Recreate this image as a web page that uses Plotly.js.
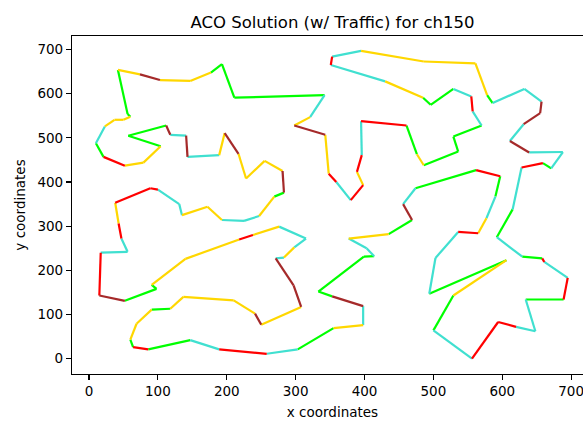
<!DOCTYPE html>
<html>
<head>
<meta charset="utf-8">
<script src="https://cdn.plot.ly/plotly-3.0.1.min.js"></script>
<style>
html, body { margin: 0; padding: 0; overflow: hidden; background: #fff; }
#chart { width: 610px; height: 421px; }
</style>
</head>
<body>
<div id="chart"></div>
<script>
// City coordinates in tour order (closed tour)
const tourX = [42,74,103,147,177,193,211,342,321,298,
  343,348,359,380,398,389,396,395,461,476,
  486,536,529,570,557,555,529,496,485,430,
  351,353,395,486,561,578,586,632,657,655,
  631,611,639,688,671,659,628,615,592,629,
  658,661,695,689,634,648,620,594,556,500,
  529,606,494,503,536,565,577,590,597,562,
  474,456,469,435,377,403,414,399,333,353,
  398,398,355,303,258,189,147,86,64,60,
  69,91,118,137,210,241,250,308,297,271,
  283,298,315,276,238,218,140,91,98,52,
  15,17,56,47,43,38,89,100,131,135,
  172,193,225,247,269,283,281,255,228,217,
  197,189,143,141,118,112,57,104,79,52,
  21,10,23,37,50,60,56];
const tourY = [654,644,631,629,648,667,591,597,547,528,
  507,419,400,359,393,423,461,538,528,463,
  438,469,503,528,560,594,611,575,591,628,
  665,684,697,673,669,597,579,611,582,556,
  531,493,467,468,431,443,433,338,275,231,
  227,219,183,134,134,62,72,83,0,64,
  143,223,147,228,287,284,318,367,413,427,
  386,350,314,282,272,250,232,231,152,141,
  119,76,69,21,11,21,42,21,26,43,
  79,111,113,140,132,102,77,117,166,227,
  229,252,272,299,280,270,226,167,158,131,
  143,240,242,272,306,353,386,383,350,325,
  344,314,312,323,367,376,425,448,408,464,
  511,461,457,505,507,528,505,481,444,437,
  457,488,526,541,541,548,554];
// Traffic level of each edge i -> i+1 (last edge closes the tour)
const segLevel = ['Y','B','Y','Y','G','G','G','T','Y','B',
  'Y','R','T','R','Y','R','T','R','G','Y',
  'G','G','G','T','R','T','G','G','Y','T',
  'R','T','Y','Y','Y','G','T','T','B','B',
  'T','B','T','T','G','R','T','G','T','G',
  'R','T','R','G','T','T','R','R','T','G',
  'Y','G','T','T','R','Y','T','G','R','G',
  'T','B','G','Y','T','T','G','G','G','B',
  'T','Y','G','T','R','T','G','R','G','Y',
  'Y','G','Y','Y','Y','B','Y','B','B','T',
  'Y','T','T','Y','R','Y','Y','G','G','B',
  'R','T','T','R','Y','R','R','T','T','Y',
  'Y','T','T','Y','G','B','Y','Y','Y','B',
  'Y','T','B','T','B','G','G','Y','Y','R',
  'G','T','Y','Y','Y','G','G'];

const levelColor = {G: '#00ff00', T: '#40e0d0', Y: '#ffd700', R: '#ff0000', B: '#a52a2a'};
const levels = ['G', 'T', 'Y', 'R', 'B'];

const n = tourX.length;
const traces = levels.map(function (lv) {
  const xs = [], ys = [];
  for (let i = 0; i < n; i++) {
    if (segLevel[i] !== lv) continue;
    const j = (i + 1) % n;
    xs.push(tourX[i], tourX[j], null);
    ys.push(tourY[i], tourY[j], null);
  }
  return {
    type: 'scatter', mode: 'lines', x: xs, y: ys,
    line: {color: levelColor[lv], width: 2.2},
    connectgaps: false, hoverinfo: 'skip', showlegend: false
  };
});

const axisBase = {
  showgrid: false, zeroline: false, showline: true, mirror: true,
  linecolor: '#000', linewidth: 1.1, ticks: 'outside', ticklen: 5,
  tickwidth: 1.1, tickcolor: '#000',
  tickfont: {family: 'DejaVu Sans', size: 13.5, color: '#000'},
  tickmode: 'array', tickvals: [0, 100, 200, 300, 400, 500, 600, 700]
};

const layout = {
  width: 610, height: 421,
  margin: {l: 72, r: 17, t: 36, b: 47},
  paper_bgcolor: '#fff', plot_bgcolor: '#fff',
  font: {family: 'DejaVu Sans', color: '#000'},
  title: {
    text: 'ACO Solution (w/ Traffic) for ch150',
    font: {family: 'DejaVu Sans', size: 16.5, color: '#000'},
    x: 0.5, xref: 'paper', xanchor: 'center',
    y: 0.948, yref: 'container', yanchor: 'middle'
  },
  xaxis: Object.assign({}, axisBase, {
    range: [-24.7, 731.7],
    title: {text: 'x coordinates', font: {family: 'DejaVu Sans', size: 13.5, color: '#000'}, standoff: 9}
  }),
  yaxis: Object.assign({}, axisBase, {
    range: [-34.8, 730.8],
    title: {text: 'y coordinates', font: {family: 'DejaVu Sans', size: 13.5, color: '#000'}, standoff: 8}
  })
};

Plotly.newPlot('chart', traces, layout, {displayModeBar: false, staticPlot: true});
</script>
</body>
</html>
